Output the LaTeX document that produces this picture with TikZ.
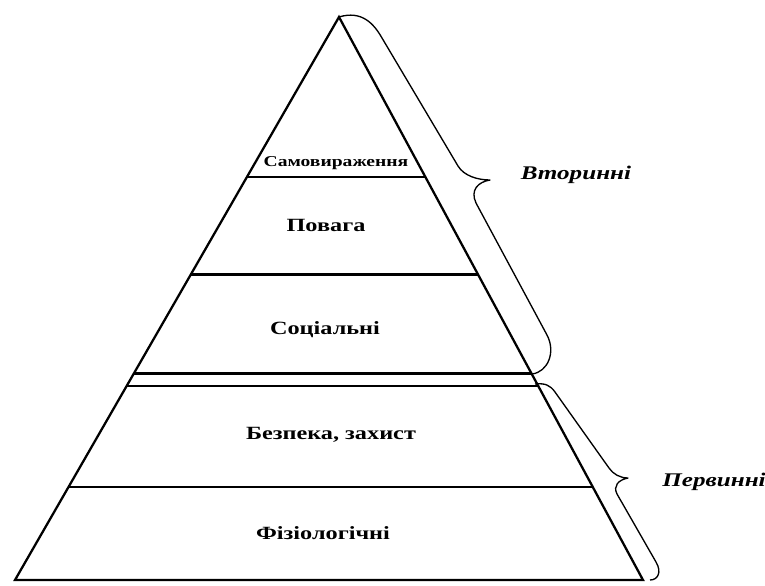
\documentclass[tikz,border=0pt]{standalone}
\usepackage{fontspec}
\setmainfont[FakeStretch=1.3]{Liberation Serif}
\usetikzlibrary{calc}

\begin{document}
\begin{tikzpicture}[x=0.75pt,y=-0.75pt,
  lvl/.style={font=\bfseries\fontsize{14}{16}\selectfont,inner sep=1pt},
  grp/.style={font=\bfseries\itshape\fontsize{14.5}{16}\selectfont,inner sep=1pt},
  ln/.style={line width=1.7pt},
  br/.style={line width=1pt,line join=round}]
  \useasboundingbox (0,0) rectangle (765,586);
  % pyramid
  \coordinate (top) at (339,17);
  \coordinate (bl) at (15,580);
  \coordinate (br) at (643,580);
  \draw[ln] (bl) -- (top) -- (br) -- cycle;
  \foreach \t in {0.2847,0.4573,0.6334,0.6548,0.8345}
    \draw[ln] ($(top)!\t!(bl)$) -- ($(top)!\t!(br)$);
  % levels
  \node[lvl,font=\bfseries\fontsize{11.3}{13}\selectfont] (samo) at (336,163) {Самовираження};
  \node[lvl] (povaha) at (326,225) {Повага};
  \node[lvl] (soc) at (325,330) {Соціальні};
  \node[lvl] (bezp) at (331,435) {Безпека, захист};
  \node[lvl] (fiz) at (323,533) {Фізіологічні};
  % braces
  \draw[br] (top) .. controls (362,10) and (374,24) .. (382,38) -- (458,166)
    .. controls (464,176) and (478,180) .. (490,180)
    .. controls (478,182) and (470,190) .. (476,203) -- (547,335)
    .. controls (556,352) and (548,372) .. (532,374);
  \draw[br] (535,384) .. controls (545,383) and (550,385) .. (555,392) -- (609,468)
    .. controls (613,474) and (620,478) .. (628,478)
    .. controls (618,480) and (613,486) .. (617,494) -- (656,562)
    .. controls (662,572) and (658,580) .. (650,580);
  \node[grp] (sec) at (576,175) {Вторинні};
  \node[grp] (prim) at (714,482) {Первинні};
\end{tikzpicture}
\end{document}
